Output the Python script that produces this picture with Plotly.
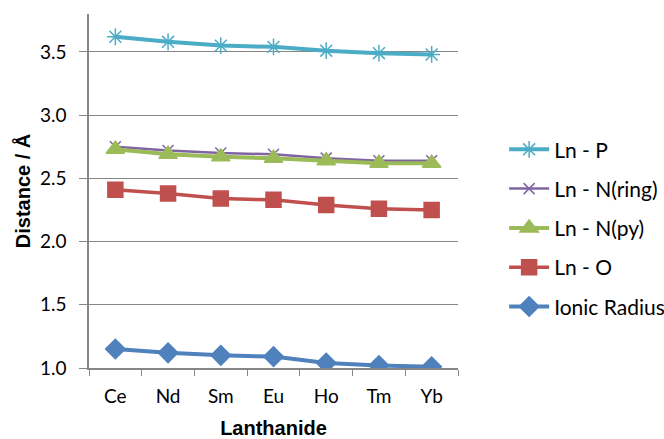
import plotly.graph_objects as go

lanthanides = ["Ce", "Nd", "Sm", "Eu", "Ho", "Tm", "Yb"]
ln_p = [3.62, 3.58, 3.55, 3.54, 3.51, 3.49, 3.48]
ln_n_ring = [2.75, 2.72, 2.70, 2.69, 2.66, 2.64, 2.64]
ln_n_py = [2.73, 2.69, 2.67, 2.66, 2.64, 2.62, 2.62]
ln_o = [2.41, 2.38, 2.34, 2.33, 2.29, 2.26, 2.25]
ionic_radius = [1.15, 1.12, 1.10, 1.09, 1.04, 1.02, 1.01]
y_ticks = [1.0, 1.5, 2.0, 2.5, 3.0, 3.5]

series = [
    ("Ln - P", ln_p, "#4BACC6", "asterisk-open", 14, 4),
    ("Ln - N(ring)", ln_n_ring, "#8064A2", "x-thin-open", 11, 2.5),
    ("Ln - N(py)", ln_n_py, "#9BBB59", "triangle-up", 16, 4),
    ("Ln - O", ln_o, "#C0504D", "square", 15, 3.5),
    ("Ionic Radius", ionic_radius, "#4F81BD", "diamond", 15, 4),
]

fig = go.Figure()
for i, (name, vals, color, sym, size, lw) in enumerate(series):
    fig.add_trace(go.Scatter(
        x=lanthanides, y=vals, name=name, mode="lines+markers",
        line=dict(color=color, width=lw),
        marker=dict(symbol=sym, size=size, color=color,
                    line=dict(color=color, width=1.5)),
        legendgroup=str(i),
    ))

axis_col = "#868686"
title_font = dict(family="Liberation Sans, Arial", size=20, weight="bold", color="#000000")
tick_font = dict(family="Lato, sans-serif", size=19, color="#000000")
fig.update_layout(
    width=664, height=439,
    margin=dict(l=89, r=206, t=14, b=71, autoexpand=False),
    plot_bgcolor="white", paper_bgcolor="white",
    font=dict(family="Lato, sans-serif", size=19, color="#000000"),
    showlegend=True,
    legend=dict(x=1.125, y=0.395, xanchor="left", yanchor="middle",
                tracegroupgap=9, itemwidth=40,
                font=dict(family="Lato, sans-serif", size=21, color="#000000")),
    xaxis=dict(
        type="category", range=[-0.5, 6.5], automargin=False,
        showline=True, linecolor=axis_col, linewidth=1.5,
        ticks="outside", tickson="boundaries", ticklen=6, tickcolor=axis_col,
        ticklabelstandoff=10,
        showgrid=False,
        title=dict(text="Lanthanide", font=title_font, standoff=18),
        tickfont=tick_font,
    ),
    yaxis=dict(
        range=[1.0, 3.8], tickvals=y_ticks, ticktext=[f"{v:.1f}" for v in y_ticks],
        automargin=False,
        showline=True, linecolor=axis_col, linewidth=1.5,
        ticks="outside", ticklen=8, tickcolor=axis_col,
        ticklabelstandoff=9,
        showgrid=True, gridcolor=axis_col, gridwidth=1.2,
        zeroline=False,
        title=dict(text="Distance / Å", font=title_font, standoff=4),
        tickfont=tick_font,
    ),
)

fig.write_html(
    "out.html",
    config={"displayModeBar": False},
    post_script="document.body.style.margin='0';document.body.style.overflow='hidden';",
)
